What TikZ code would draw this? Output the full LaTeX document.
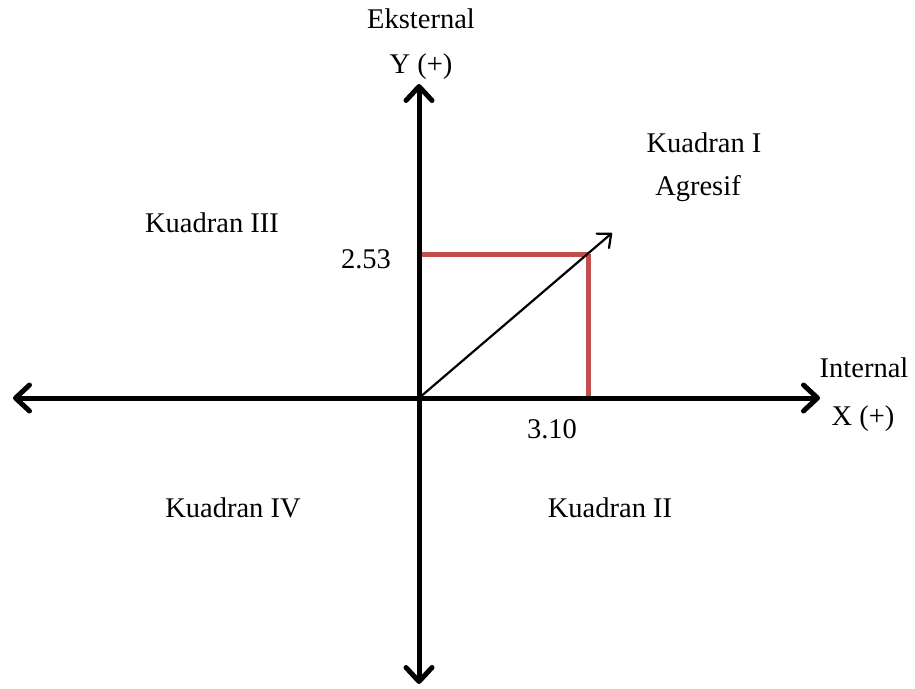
\documentclass[tikz,border=0pt]{standalone}
\usepackage{fontspec}
\setmainfont{Liberation Serif}
\usetikzlibrary{arrows.meta}
\definecolor{redline}{RGB}{192,80,77}
\tikzset{
  axis/.style={line width=5pt, line cap=round, -{Straight Barb[length=14pt,width=26pt,line cap=round,line join=round]}},
  axisboth/.style={line width=5pt, line cap=round, {Straight Barb[length=14pt,width=26pt,line cap=round,line join=round]}-{Straight Barb[length=14pt,width=26pt,line cap=round,line join=round]}},
  vec/.style={line width=2.2pt, -{Straight Barb[length=11pt,width=19pt,line cap=round,line join=round]}},
  redl/.style={line width=5pt, draw=redline},
  lbl/.style={font=\fontsize{28.5}{34}\selectfont, inner sep=0pt, anchor=base}
}
\begin{document}
\begin{tikzpicture}[x=1pt,y=1pt]
\useasboundingbox (0,0) rectangle (915,-688);
\coordinate (O) at (419,-398);
\coordinate (L) at (13,-398);
\coordinate (R) at (820,-398);
\coordinate (T) at (419,-84);
\coordinate (B) at (419,-684);
\coordinate (P) at (588,-254);
\coordinate (Py) at (419,-254);
\coordinate (Px) at (588,-398);
\coordinate (V) at (612,-233);
\draw[redl] (Py) -- (P);
\draw[redl] (P) -- (Px);
\draw[axisboth] (L) -- (R);
\draw[axisboth] (B) -- (T);
\draw[vec] (O) -- (V);
\node[lbl] (eks) at (421,-28) {Eksternal};
\node[lbl] (yp) at (421,-73) {Y (+)};
\node[lbl] (k1) at (704,-152) {Kuadran I};
\node[lbl] (agr) at (698,-195) {Agresif};
\node[lbl] (k3) at (212,-232) {Kuadran III};
\node[lbl] (k4) at (233,-517) {Kuadran IV};
\node[lbl] (k2) at (610,-517) {Kuadran II};
\node[lbl] (int) at (864,-377) {Internal};
\node[lbl] (xp) at (863,-425) {X (+)};
\node[lbl] (v253) at (366,-268) {2.53};
\node[lbl] (v310) at (552,-438) {3.10};
\end{tikzpicture}
\end{document}
